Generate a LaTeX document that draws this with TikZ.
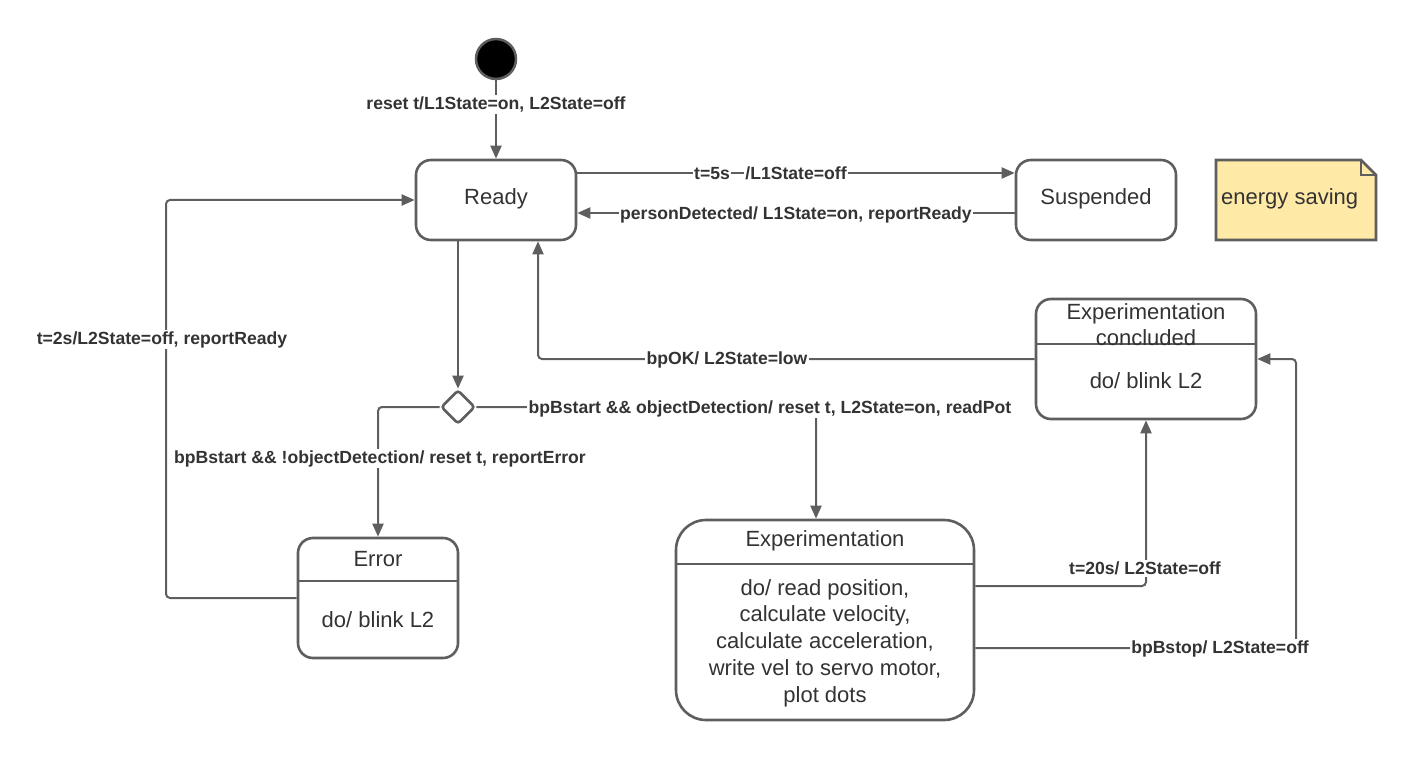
\documentclass[tikz,border=0pt]{standalone}
\usepackage{fontspec}
\setmainfont{Liberation Sans}
\usetikzlibrary{arrows.meta,shapes.geometric}
\definecolor{ln}{HTML}{5E5E5E}
\definecolor{tx}{HTML}{333333}
\definecolor{notey}{HTML}{FFE9A6}
\tikzset{
  statebox/.style={draw=ln, line width=2.6pt, rounded corners=15pt, fill=white, inner sep=0pt},
  stxt/.style={text=tx, font=\fontsize{22}{26}\selectfont, align=center, inner sep=0pt, yshift=-1pt},
  lbl/.style={text=tx, font=\fontsize{17.6}{20}\bfseries\selectfont, fill=white, inner sep=1.5pt, yshift=-1.5pt},
  arr/.style={draw=ln, line width=2pt, rounded corners=4pt, -{Triangle[length=13pt,width=11pt]}},
  divline/.style={draw=ln, line width=2.6pt},
}
\begin{document}
\begin{tikzpicture}[x=1pt,y=-1pt]
\useasboundingbox (0,0) rectangle (1416,762);
% states
\node[circle, fill=black, draw=ln, line width=2.5pt, minimum size=40pt, inner sep=0pt] (init) at (496,59) {};
\node[statebox, minimum width=160pt, minimum height=80pt] (ready) at (496,200) {};
\node[stxt] (readyt) at (496,198) {Ready};
\node[statebox, minimum width=160pt, minimum height=80pt] (susp) at (1096,200) {};
\node[stxt] (suspt) at (1096,198) {Suspended};
% note
\path[fill=notey, draw=ln, line width=2.6pt, line join=miter] (1216,160) -- (1361,160) -- (1376,175) -- (1376,240) -- (1216,240) -- cycle;
\path[draw=ln, line width=2.6pt] (1361,160) -- (1361,175) -- (1376,175);
\node[stxt, anchor=west] (notet) at (1221,198) {energy saving};
% decision
\node[diamond, draw=ln, line width=2.6pt, rounded corners=3pt, minimum width=34pt, minimum height=34pt, inner sep=0pt, fill=white] (dec) at (458,407) {};
% error
\node[statebox, minimum width=160pt, minimum height=120pt] (err) at (378,598) {};
\draw[divline] (298,581) -- (458,581);
\node[stxt] (errt) at (378,558) {Error};
\node[stxt] (errb) at (378,619) {do/ blink L2};
% experimentation concluded
\node[statebox, minimum width=220pt, minimum height=120pt] (expc) at (1146,359) {};
\draw[divline] (1036,344) -- (1256,344);
\node[stxt] (expct) at (1146,324) {Experimentation\\concluded};
\node[stxt] (expcb) at (1146,380) {do/ blink L2};
% experimentation
\node[statebox, rounded corners=30pt, minimum width=298pt, minimum height=200pt] (exp) at (825,620) {};
\draw[divline] (676,564) -- (974,564);
\node[stxt] (expt) at (825,540) {Experimentation};
\node[stxt, font=\fontsize{22}{26.8}\selectfont] (expb) at (825,642) {do/ read position,\\calculate velocity,\\calculate acceleration,\\write vel to servo motor,\\plot dots};
% connectors
\draw[arr] (init) -- (ready);
\node[lbl] (l0) at (496,103) {reset t/L1State=on, L2State=off};
\draw[arr] ([yshift=27pt]ready.east) -- ([yshift=27pt]susp.west);
\node[lbl] (l1a) at (712,172) {t=5s};
\node[lbl] (l1b) at (796,172) {/L1State=off};
\draw[arr] ([yshift=-13pt]susp.west) -- ([yshift=-13pt]ready.east);
\node[lbl] (l2) at (796,213) {personDetected/ L1State=on, reportReady};
\draw[arr] (dec.north |- ready.south) -- (dec.north);
\draw[arr] (dec.west) -| (err.north);
\node[lbl] (l3) at (380,457) {bpBstart \&\& !objectDetection/ reset t, reportError};
\draw[arr] (dec.east) -| ([xshift=-9pt]exp.north);
\node[lbl] (l4) at (770,407) {bpBstart \&\& objectDetection/ reset t, L2State=on, readPot};
\draw[arr] (err.west) -- (166,598) |- (ready.west);
\node[lbl] (l5) at (162,338) {t=2s/L2State=off, reportReady};
\draw[arr] (expc.west) -| ([xshift=42pt]ready.south);
\node[lbl] (l6) at (727,358) {bpOK/ L2State=low};
\draw[arr] ([yshift=34pt]exp.east) -| (expc.south);
\node[lbl] (l7) at (1145,567) {t=20s/ L2State=off};
\draw[arr] ([yshift=-28pt]exp.east) -- (1296,648) |- (expc.east);
\node[lbl] (l8) at (1220,647) {bpBstop/ L2State=off};
\end{tikzpicture}
\end{document}
